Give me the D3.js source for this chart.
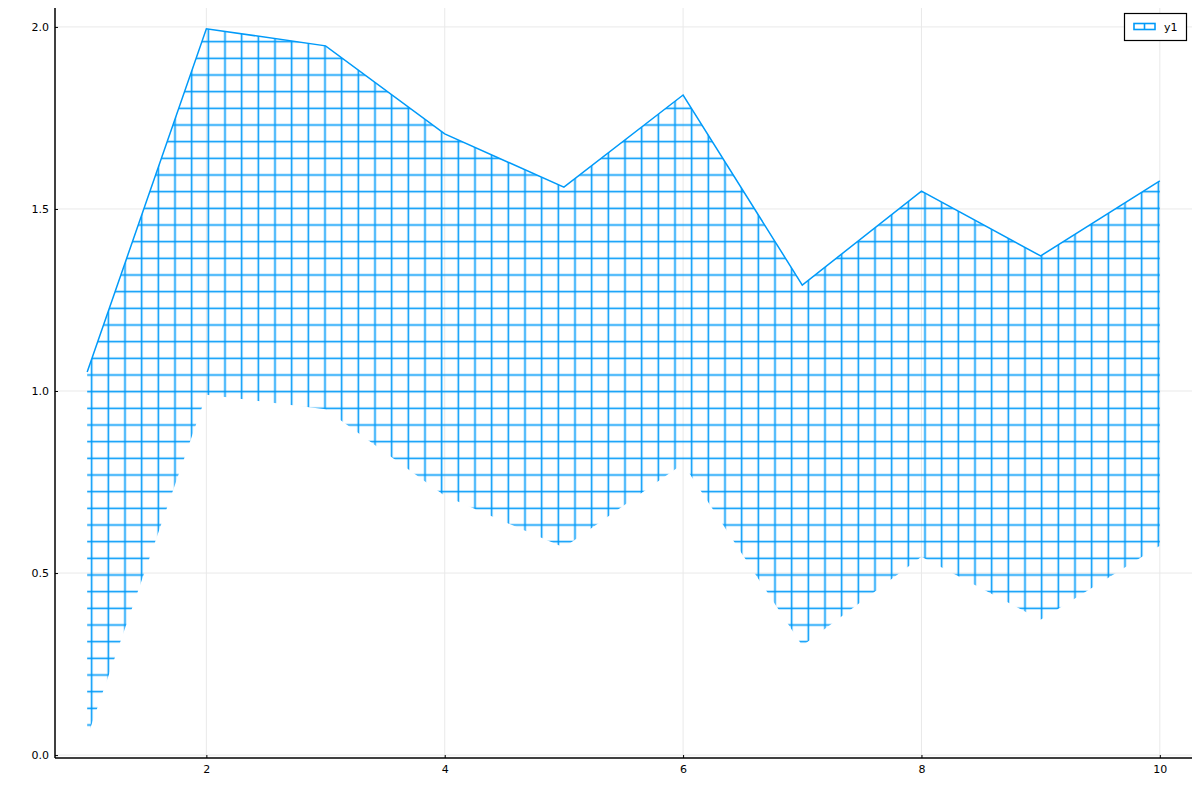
<!DOCTYPE html>
<html>
<head>
<meta charset="utf-8">
<script src="https://cdn.jsdelivr.net/npm/d3@7"></script>
<style>
  body { margin: 0; background: #fff; }
  text { font-family: "DejaVu Sans", sans-serif; }
</style>
</head>
<body>
<div id="cont"></div>
<script>
// series values
var xs = [1, 2, 3, 4, 5, 6, 7, 8, 9, 10];
var yUpper = [1.052, 1.995, 1.948, 1.706, 1.560, 1.813, 1.291, 1.549, 1.371, 1.577];
var yLower = [0.05, 0.99, 0.95, 0.712, 0.57, 0.80, 0.30, 0.545, 0.372, 0.575];
var xTicks = [2, 4, 6, 8, 10];
var yTicks = [0.0, 0.5, 1.0, 1.5, 2.0];
var seriesName = "y1";

var W = 1200, H = 800;
var plotL = 55, plotR = 1192, plotT = 8, plotB = 758;
var blue = "#009af9";

var svg = d3.select("#cont").append("svg")
  .attr("width", W)
  .attr("height", H);

var xScale = d3.scaleLinear().domain([0.73, 10.27]).range([plotL, plotR]);
var yScale = d3.scaleLinear().domain([-0.008, 2.052]).range([plotB, plotT]);

// hatch pattern (cross), in page coordinates
var step = 50 / 3;
var defs = svg.append("defs");
var pat = defs.append("pattern")
  .attr("id", "cross")
  .attr("patternUnits", "userSpaceOnUse")
  .attr("width", step)
  .attr("height", step);
pat.append("line")
  .attr("x1", step / 2).attr("x2", step / 2)
  .attr("y1", 0).attr("y2", step)
  .attr("stroke", blue).attr("stroke-width", 1.6);
pat.append("line")
  .attr("y1", step / 2).attr("y2", step / 2)
  .attr("x1", 0).attr("x2", step)
  .attr("stroke", blue).attr("stroke-width", 1.6);

// grid
svg.append("g")
  .selectAll("line")
  .data(xTicks)
  .enter().append("line")
  .attr("x1", d => xScale(d)).attr("x2", d => xScale(d))
  .attr("y1", plotT).attr("y2", plotB)
  .attr("stroke", "#e9e9e9").attr("stroke-width", 1);

svg.append("g")
  .selectAll("line")
  .data(yTicks)
  .enter().append("line")
  .attr("y1", d => yScale(d)).attr("y2", d => yScale(d))
  .attr("x1", plotL).attr("x2", plotR)
  .attr("stroke", "#e9e9e9").attr("stroke-width", 1);

// fill between the two curves
var table = xs.map((x, i) => ({ x: x, lo: yLower[i], hi: yUpper[i] }));
var area = d3.area()
  .x(d => xScale(d.x))
  .y0(d => yScale(d.lo))
  .y1(d => yScale(d.hi));

svg.append("path")
  .datum(table)
  .attr("d", area)
  .attr("fill", "url(#cross)")
  .attr("stroke", "none");

// the series line
var pts = xs.map((x, i) => [x, yUpper[i]]);
var line = d3.line()
  .x(d => xScale(d[0]))
  .y(d => yScale(d[1]));

svg.append("path")
  .datum(pts)
  .attr("d", line)
  .attr("fill", "none")
  .attr("stroke", blue)
  .attr("stroke-width", 1.5);

// axes
var xAxis = svg.append("g")
  .attr("transform", "translate(0," + plotB + ")")
  .call(d3.axisBottom(xScale).tickValues(xTicks).tickSize(-3).tickPadding(7).tickFormat(d3.format("d")));
var yAxis = svg.append("g")
  .attr("transform", "translate(" + plotL + ",0)")
  .call(d3.axisLeft(yScale).tickValues(yTicks).tickSize(-3).tickPadding(6).tickFormat(d3.format(".1f")));

[xAxis, yAxis].forEach(function(a) {
  a.select(".domain").attr("stroke", "#000").attr("stroke-width", 1.5);
  a.selectAll(".tick line").attr("stroke", "#000");
  a.selectAll("text").attr("fill", "#000").style("font-size", "11px").style("font-family", "DejaVu Sans");
});
xAxis.select(".domain").attr("d", "M" + plotL + ",0H" + plotR);
yAxis.select(".domain").attr("d", "M0," + plotT + "V" + plotB);

// legend
var lg = svg.append("g");
lg.append("rect")
  .attr("x", 1124.5).attr("y", 13.5)
  .attr("width", 62).attr("height", 27)
  .attr("fill", "#fff").attr("stroke", "#000").attr("stroke-width", 1.2);
lg.append("rect")
  .attr("x", 1134).attr("y", 23.5)
  .attr("width", 21).attr("height", 6)
  .attr("fill", "#fff").attr("stroke", blue).attr("stroke-width", 1.6);
lg.append("line")
  .attr("x1", 1144.5).attr("x2", 1144.5)
  .attr("y1", 23.5).attr("y2", 29.5)
  .attr("stroke", blue).attr("stroke-width", 1.6);
lg.append("text")
  .attr("x", 1164).attr("y", 31)
  .style("font-size", "11px")
  .attr("fill", "#000")
  .text(seriesName);
</script>
</body>
</html>
